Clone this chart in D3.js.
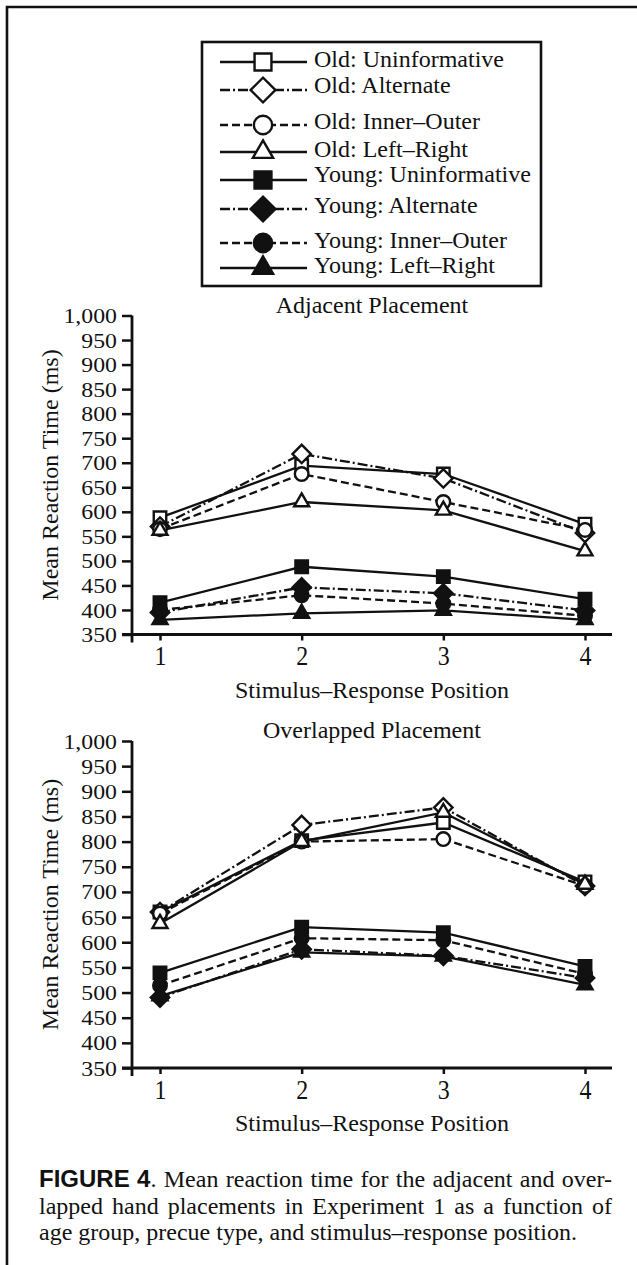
<!DOCTYPE html>
<html>
<head>
<meta charset="utf-8">
<script src="https://cdn.jsdelivr.net/npm/d3@7"></script>
<style>
  body { margin: 0; background: #fff; }
  svg text { font-family: "Liberation Serif", "Times New Roman", serif; fill: #111; }
</style>
</head>
<body>
<svg id="fig" width="637" height="1265"></svg>
<script>
// ---- data ----
var positions = [1, 2, 3, 4];
var yTickValues = [350, 400, 450, 500, 550, 600, 650, 700, 750, 800, 850, 900, 950, 1000];
var seriesNames = [
  "Old: Uninformative", "Old: Alternate", "Old: Inner\u2013Outer", "Old: Left\u2013Right",
  "Young: Uninformative", "Young: Alternate", "Young: Inner\u2013Outer", "Young: Left\u2013Right"
];
// same order as seriesNames
var adjacentRT = [
  [588, 694, 677, 575],
  [570, 718, 668, 557],
  [565, 677, 620, 563],
  [562, 620, 603, 520],
  [415, 488, 468, 422],
  [395, 446, 434, 399],
  [400, 430, 413, 388],
  [380, 393, 399, 380]
];
var overlappedRT = [
  [660, 802, 838, 720],
  [660, 833, 868, 712],
  [657, 800, 805, 712],
  [637, 800, 858, 715],
  [539, 630, 619, 552],
  [490, 586, 573, 529],
  [514, 608, 604, 537],
  [493, 580, 572, 515]
];

// ---- styles ----
var markerShape = ["square", "diamond", "circle", "triangle", "square", "diamond", "circle", "triangle"];
var markerFilled = [false, false, false, false, true, true, true, true];
var dashStyle = ["none", "10,3,2,3", "8,4", "none", "none", "10,3,2,3", "8,4", "none"];

var ink = "#111";
var serif = '"Liberation Serif", "Times New Roman", serif';
var svg = d3.select("#fig");

function markerPath(shape, big) {
  var s = big ? 1.35 : 1;
  if (shape === "square") return d3.symbol(d3.symbolSquare, Math.pow(12.5 * s, 2))();
  if (shape === "diamond") return d3.symbol(d3.symbolSquare, Math.pow(13 * s, 2))();
  if (shape === "circle") return d3.symbol(d3.symbolCircle, Math.PI * Math.pow(6.8 * s, 2))();
  return d3.symbol(d3.symbolTriangle, 0.433 * Math.pow(15 * s, 2))();
}

function drawMarker(g, i, cx, cy, big) {
  g.append("path")
    .attr("d", markerPath(markerShape[i], big))
    .attr("transform", "translate(" + cx + "," + cy + ")" + (markerShape[i] === "diamond" ? " rotate(45)" : ""))
    .attr("fill", markerFilled[i] ? ink : "#fff")
    .attr("stroke", ink)
    .attr("stroke-width", 2.4);
}

// ---- frame ----
svg.append("path").attr("d", "M7,1265 V7 H637").attr("fill", "none").attr("stroke", ink).attr("stroke-width", 2.6);

// ---- legend ----
var legendMarkY = [62, 90, 125, 152, 180, 209, 243, 268];
var legendTextY = [67, 93, 129, 157, 182, 213, 248, 273];
var legend = svg.append("g");
legend.append("rect").attr("x", 202).attr("y", 42).attr("width", 339).attr("height", 244)
  .attr("fill", "#fff").attr("stroke", ink).attr("stroke-width", 2.6);
seriesNames.forEach(function(name, i) {
  legend.append("line")
    .attr("x1", 220).attr("x2", 307).attr("y1", legendMarkY[i]).attr("y2", legendMarkY[i])
    .attr("stroke", ink).attr("stroke-width", 2.4)
    .attr("stroke-dasharray", dashStyle[i]);
  drawMarker(legend, i, 263, legendMarkY[i], true);
  legend.append("text").attr("x", 314).attr("y", legendTextY[i])
    .attr("font-size", 24).text(name);
});

// ---- panels ----
var x = d3.scaleLinear().domain([1, 4]).range([160, 585]);
var axisX = 132;

function drawPanel(values, yTop, yBottom, title) {
  var y = d3.scaleLinear().domain([350, 1000]).range([yBottom, yTop]);
  var g = svg.append("g");

  g.append("text").attr("x", 372).attr("y", yTop - 3).attr("text-anchor", "middle")
    .attr("font-size", 24).text(title);

  var ya = g.append("g").attr("transform", "translate(" + axisX + ",0)")
    .call(d3.axisLeft(y).tickValues(yTickValues).tickFormat(d3.format(",")).tickSize(10).tickPadding(4));
  ya.select(".domain").remove();
  ya.attr("font-family", serif).attr("font-size", 22);
  ya.selectAll(".tick line").attr("stroke", ink).attr("stroke-width", 2.5);
  ya.selectAll(".tick text").attr("fill", ink).attr("transform", "scale(1.08,1)");

  var xa = g.append("g").attr("transform", "translate(0," + yBottom + ")")
    .call(d3.axisBottom(x).tickValues(positions).tickFormat(d3.format("d")).tickSize(6).tickPadding(3));
  xa.select(".domain").remove();
  xa.attr("font-family", serif).attr("font-size", 24);
  xa.selectAll(".tick line").attr("stroke", ink).attr("stroke-width", 2.5);
  xa.selectAll(".tick text").attr("fill", ink).attr("transform", "scale(1,1.18)");

  g.append("line").attr("x1", axisX).attr("x2", axisX).attr("y1", yTop).attr("y2", yBottom + 8)
    .attr("stroke", ink).attr("stroke-width", 2.8);
  g.append("line").attr("x1", 122).attr("x2", 612).attr("y1", yBottom).attr("y2", yBottom)
    .attr("stroke", ink).attr("stroke-width", 2.8);

  g.append("text").attr("x", 372).attr("y", yBottom + 63).attr("text-anchor", "middle")
    .attr("font-size", 24).text("Stimulus\u2013Response Position");
  g.append("text").attr("transform", "translate(58," + ((yTop + yBottom) / 2) + ") rotate(-90)")
    .attr("text-anchor", "middle").attr("font-size", 24).text("Mean Reaction Time (ms)");

  var line = d3.line().x(function(d, j) { return x(positions[j]); }).y(function(d) { return y(d); });
  g.selectAll("path.series").data(values).enter().append("path")
    .attr("class", "series")
    .attr("d", line)
    .attr("fill", "none").attr("stroke", ink).attr("stroke-width", 2.3)
    .attr("stroke-dasharray", function(d, i) { return dashStyle[i]; });

  values.forEach(function(row, i) {
    row.forEach(function(v, j) { drawMarker(g, i, x(positions[j]), y(v), false); });
  });
}

drawPanel(adjacentRT, 315.5, 634.5, "Adjacent Placement");
drawPanel(overlappedRT, 741, 1068, "Overlapped Placement");

// ---- caption, justified to 39..612 ----
var captionLines = [
  "FIGURE 4. Mean reaction time for the adjacent and over-",
  "lapped hand placements in Experiment 1 as a function of",
  "age group, precue type, and stimulus\u2013response position."
];
var captionY = [1187, 1213.5, 1240];
var capLeft = 39, capRight = 612;

captionLines.forEach(function(str, li) {
  var words = str.split(" ");
  var nodes = words.map(function(w) {
    var t = svg.append("text").attr("y", captionY[li]).attr("font-size", 24);
    if (w === "FIGURE" || w === "4.") {
      t.append("tspan").attr("font-family", '"Liberation Sans", Arial, sans-serif')
        .attr("font-weight", "bold").text(w === "4." ? "4" : w);
      if (w === "4.") t.append("tspan").text(".");
    } else {
      t.text(w);
    }
    return t;
  });
  var widths = nodes.map(function(t) { return t.node().getComputedTextLength(); });
  var total = d3.sum(widths);
  var gap = li < captionLines.length - 1 ? (capRight - capLeft - total) / (words.length - 1) : 6;
  var cx = capLeft;
  nodes.forEach(function(t, k) {
    t.attr("x", cx);
    cx += widths[k] + gap;
  });
});
</script>
</body>
</html>
